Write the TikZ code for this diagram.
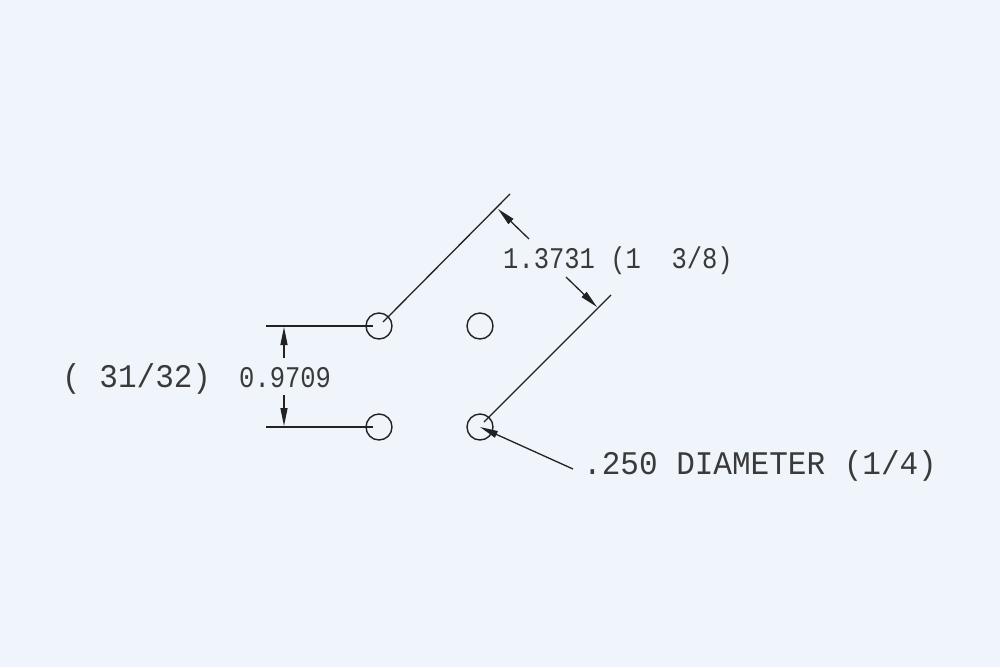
\documentclass[tikz,border=0pt]{standalone}
\usepackage{fontspec}
\usetikzlibrary{arrows.meta}
\newfontfamily\dimfont[FakeStretch=.85]{Liberation Mono}
\newfontfamily\notefont[FakeStretch=.94]{Liberation Mono}
\definecolor{paper}{HTML}{EFF5FA}
\definecolor{ink}{HTML}{222222}
\definecolor{textink}{HTML}{3A3A3A}
\tikzset{
    dimline/.style={draw=ink,line width=1.3pt},
    extline/.style={draw=ink,line width=1.7pt},
    dimarrow/.style={dimline,-{Stealth[length=18pt,width=7pt,inset=0pt]}},
    hole/.style={circle,draw=ink,line width=1.4pt,minimum size=26pt,inner sep=0pt},
    dimtext/.style={anchor=base west,inner sep=0pt,text=textink,font=\dimfont\fontsize{30}{30}\selectfont},
    notetext/.style={anchor=base west,inner sep=0pt,text=textink,font=\notefont\fontsize{33}{33}\selectfont}
}
\begin{document}
\begin{tikzpicture}[x=1pt,y=-1pt]
                    \fill[paper](0,0)rectangle(1000,667);
                    \useasboundingbox(0,0)rectangle(1000,667);
                    \node[hole](H1)at(379,326){};
                    \node[hole](H2)at(480,326){};
                    \node[hole](H3)at(379,427){};
                    \node[hole](H4)at(480,427){};
                    \coordinate(E1)at(266,326);
                    \coordinate(E2)at(373,326);
                    \coordinate(E3)at(266,427);
                    \coordinate(E4)at(373,427);
                    \coordinate(F1)at(383,322);
                    \coordinate(F2)at(510,194);
                    \coordinate(F3)at(484,422);
                    \coordinate(F4)at(611,295);
                    \coordinate(V1)at(284,358);
                    \coordinate(V2)at(284,327);
                    \coordinate(V3)at(284,395);
                    \coordinate(V4)at(284,426);
                    \coordinate(D1)at(529,239);
                    \coordinate(D2)at(498,209);
                    \coordinate(D3)at(566,277);
                    \coordinate(D4)at(597,307);
                    \coordinate(L1)at(573,469);
                    \draw[extline](E1)--(E2);
                    \draw[extline](E3)--(E4);
                    \draw[dimline](F1)--(F2);
                    \draw[dimline](F3)--(F4);
                    \draw[dimarrow](V1)--(V2);
                    \draw[dimarrow](V3)--(V4);
                    \draw[dimarrow](D1)--(D2);
                    \draw[dimarrow](D3)--(D4);
                    \draw[dimarrow](L1)--(H4.center);
                    \node[dimtext](T1)at(239,387){0.9709};
                    \node[notetext](T2)at(62,387){( 31/32)};
                    \node[dimtext](T3)at(503,268){1.3731 (1\ \ 3/8)};
                    \node[notetext](T4)at(583,474){.250 DIAMETER (1/4)};
                \end{tikzpicture}
\end{document}
